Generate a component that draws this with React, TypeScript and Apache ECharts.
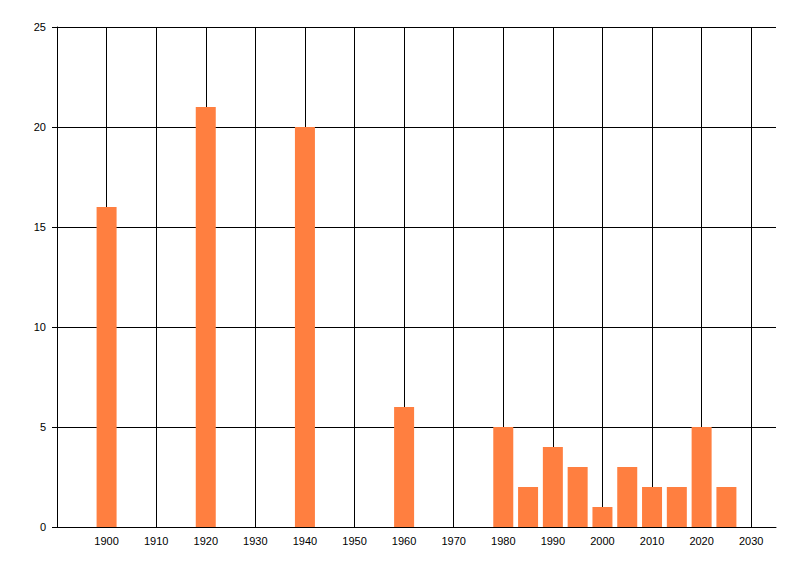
import React, { useEffect, useRef } from "react";
import * as echarts from "echarts";

const years = [1900, 1920, 1940, 1960, 1980, 1985, 1990, 1995, 2000, 2005, 2010, 2015, 2020, 2025];
const counts = [16, 21, 20, 6, 5, 2, 4, 3, 1, 3, 2, 2, 5, 2];
const xMin = 1890;
const xMax = 2035;
const yTicks = [0, 5, 10, 15, 20, 25];

export default function App() {
  const ref = useRef<HTMLDivElement>(null);
  useEffect(() => {
    if (!ref.current) return;
    const chart = echarts.init(ref.current, null, { renderer: "svg" });
    const font = { fontFamily: "Liberation Sans", fontSize: 11, color: "#000" };
    chart.setOption({
      animation: false,
      backgroundColor: "#fff",
      grid: { left: 57, right: 24, top: 27, bottom: 49, containLabel: false },
      xAxis: {
        type: "value",
        min: xMin,
        max: xMax,
        interval: 10,
        axisLine: { show: true, onZero: false, lineStyle: { color: "#000", width: 1 } },
        axisTick: { show: false },
        axisLabel: {
          ...font,
          margin: 8,
          showMinLabel: false,
          showMaxLabel: false,
          formatter: (v: number) => (v % 10 === 0 && v > xMin && v < xMax ? String(v) : ""),
        },
        splitLine: { show: true, showMinLine: false, showMaxLine: false, lineStyle: { color: "#000", width: 1 } },
      },
      yAxis: {
        type: "value",
        min: yTicks[0],
        max: yTicks[yTicks.length - 1],
        interval: 5,
        axisLine: { show: true, lineStyle: { color: "#000", width: 1 } },
        axisTick: { show: true, length: 5, lineStyle: { color: "#000" } },
        axisLabel: { ...font, margin: 11 },
        splitLine: { show: true, lineStyle: { color: "#000", width: 1 } },
      },
      series: [
        {
          type: "bar",
          barWidth: 20,
          itemStyle: { color: "#FF7F40" },
          data: years.map((y, i) => [y, counts[i]]),
        },
      ],
    });
    return () => chart.dispose();
  }, []);
  return (
    <div
      ref={ref}
      style={{ position: "fixed", left: 0, top: 0, width: 800, height: 576, background: "#fff" }}
    />
  );
}
